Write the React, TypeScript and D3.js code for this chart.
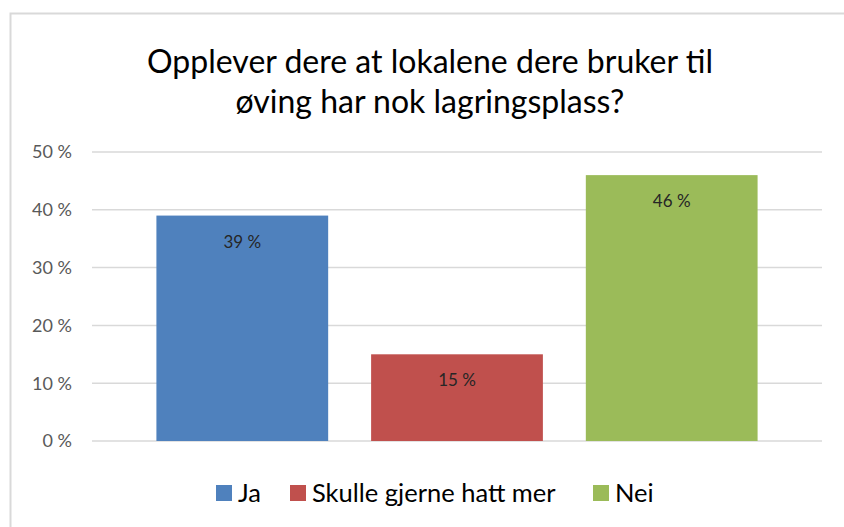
import React from 'react';
import * as d3 from 'd3';

const categories = ['Ja', 'Skulle gjerne hatt mer', 'Nei'];
const values = [0.39, 0.15, 0.46];
const colors = ['#4F81BD', '#C0504D', '#9BBB59'];
const yTicks = [0, 0.1, 0.2, 0.3, 0.4, 0.5];
const titleLines = ['Opplever dere at lokalene dere bruker til', 'øving har nok lagringsplass?'];

const W = 844;
const H = 527;
const FONT = 'Lato, "Open Sans", sans-serif';

const fmtPct = (v: number) => `${Math.round(v * 100)} %`;

const App = () => {
    const plotLeft = 92;
    const plotRight = 822;
    const plotTop = 152;
    const plotBottom = 441;

    const x = d3.scaleBand<string>()
        .domain(categories)
        .range([plotLeft, plotRight])
        .paddingInner(0.2)
        .paddingOuter(0.3);

    const y = d3.scaleLinear()
        .domain([0, 0.5])
        .range([plotBottom, plotTop]);

    // legend layout, x start of each swatch
    const legendX = [216, 290, 593];
    const legendY = 493;

    return (
        <svg width={W} height={H} style={{ position: 'absolute', left: 0, top: 0, background: '#fff' }}>
            {/* chart frame, runs off the right and bottom edge */}
            <rect x={10.5} y={13.5} width={W + 10} height={H + 10} fill="#fff" stroke="#D9D9D9" strokeWidth={2} />

            {titleLines.map((t, i) => (
                <text key={i} x={430} y={73 + i * 40} textAnchor="middle" fontFamily={FONT} fontSize={32} fill="#000">
                    {t}
                </text>
            ))}

            {/* gridlines + y labels */}
            {yTicks.map(t => (
                <g key={t}>
                    <line x1={plotLeft} x2={plotRight} y1={y(t)} y2={y(t)} stroke="#D9D9D9" strokeWidth={1.5} />
                    <text x={72} y={y(t)} dy="0.35em" textAnchor="end" fontFamily={FONT} fontSize={18} fill="#595959">
                        {fmtPct(t)}
                    </text>
                </g>
            ))}

            {/* bars */}
            {categories.map((c, i) => (
                <g key={c}>
                    <rect
                        x={x(c)}
                        y={y(values[i])}
                        width={x.bandwidth()}
                        height={plotBottom - y(values[i])}
                        fill={colors[i]}
                    />
                    <text
                        x={(x(c) as number) + x.bandwidth() / 2}
                        y={y(values[i]) + 32}
                        textAnchor="middle"
                        fontFamily={FONT}
                        fontSize={17}
                        fill="#262626"
                    >
                        {fmtPct(values[i])}
                    </text>
                </g>
            ))}

            {/* legend */}
            {categories.map((c, i) => (
                <g key={c}>
                    <rect x={legendX[i]} y={legendY - 8} width={16} height={16} fill={colors[i]} />
                    <text x={legendX[i] + 22} y={legendY} dy="0.36em" fontFamily={FONT} fontSize={25.5} fill="#000">
                        {c}
                    </text>
                </g>
            ))}
        </svg>
    );
};

export default App;
